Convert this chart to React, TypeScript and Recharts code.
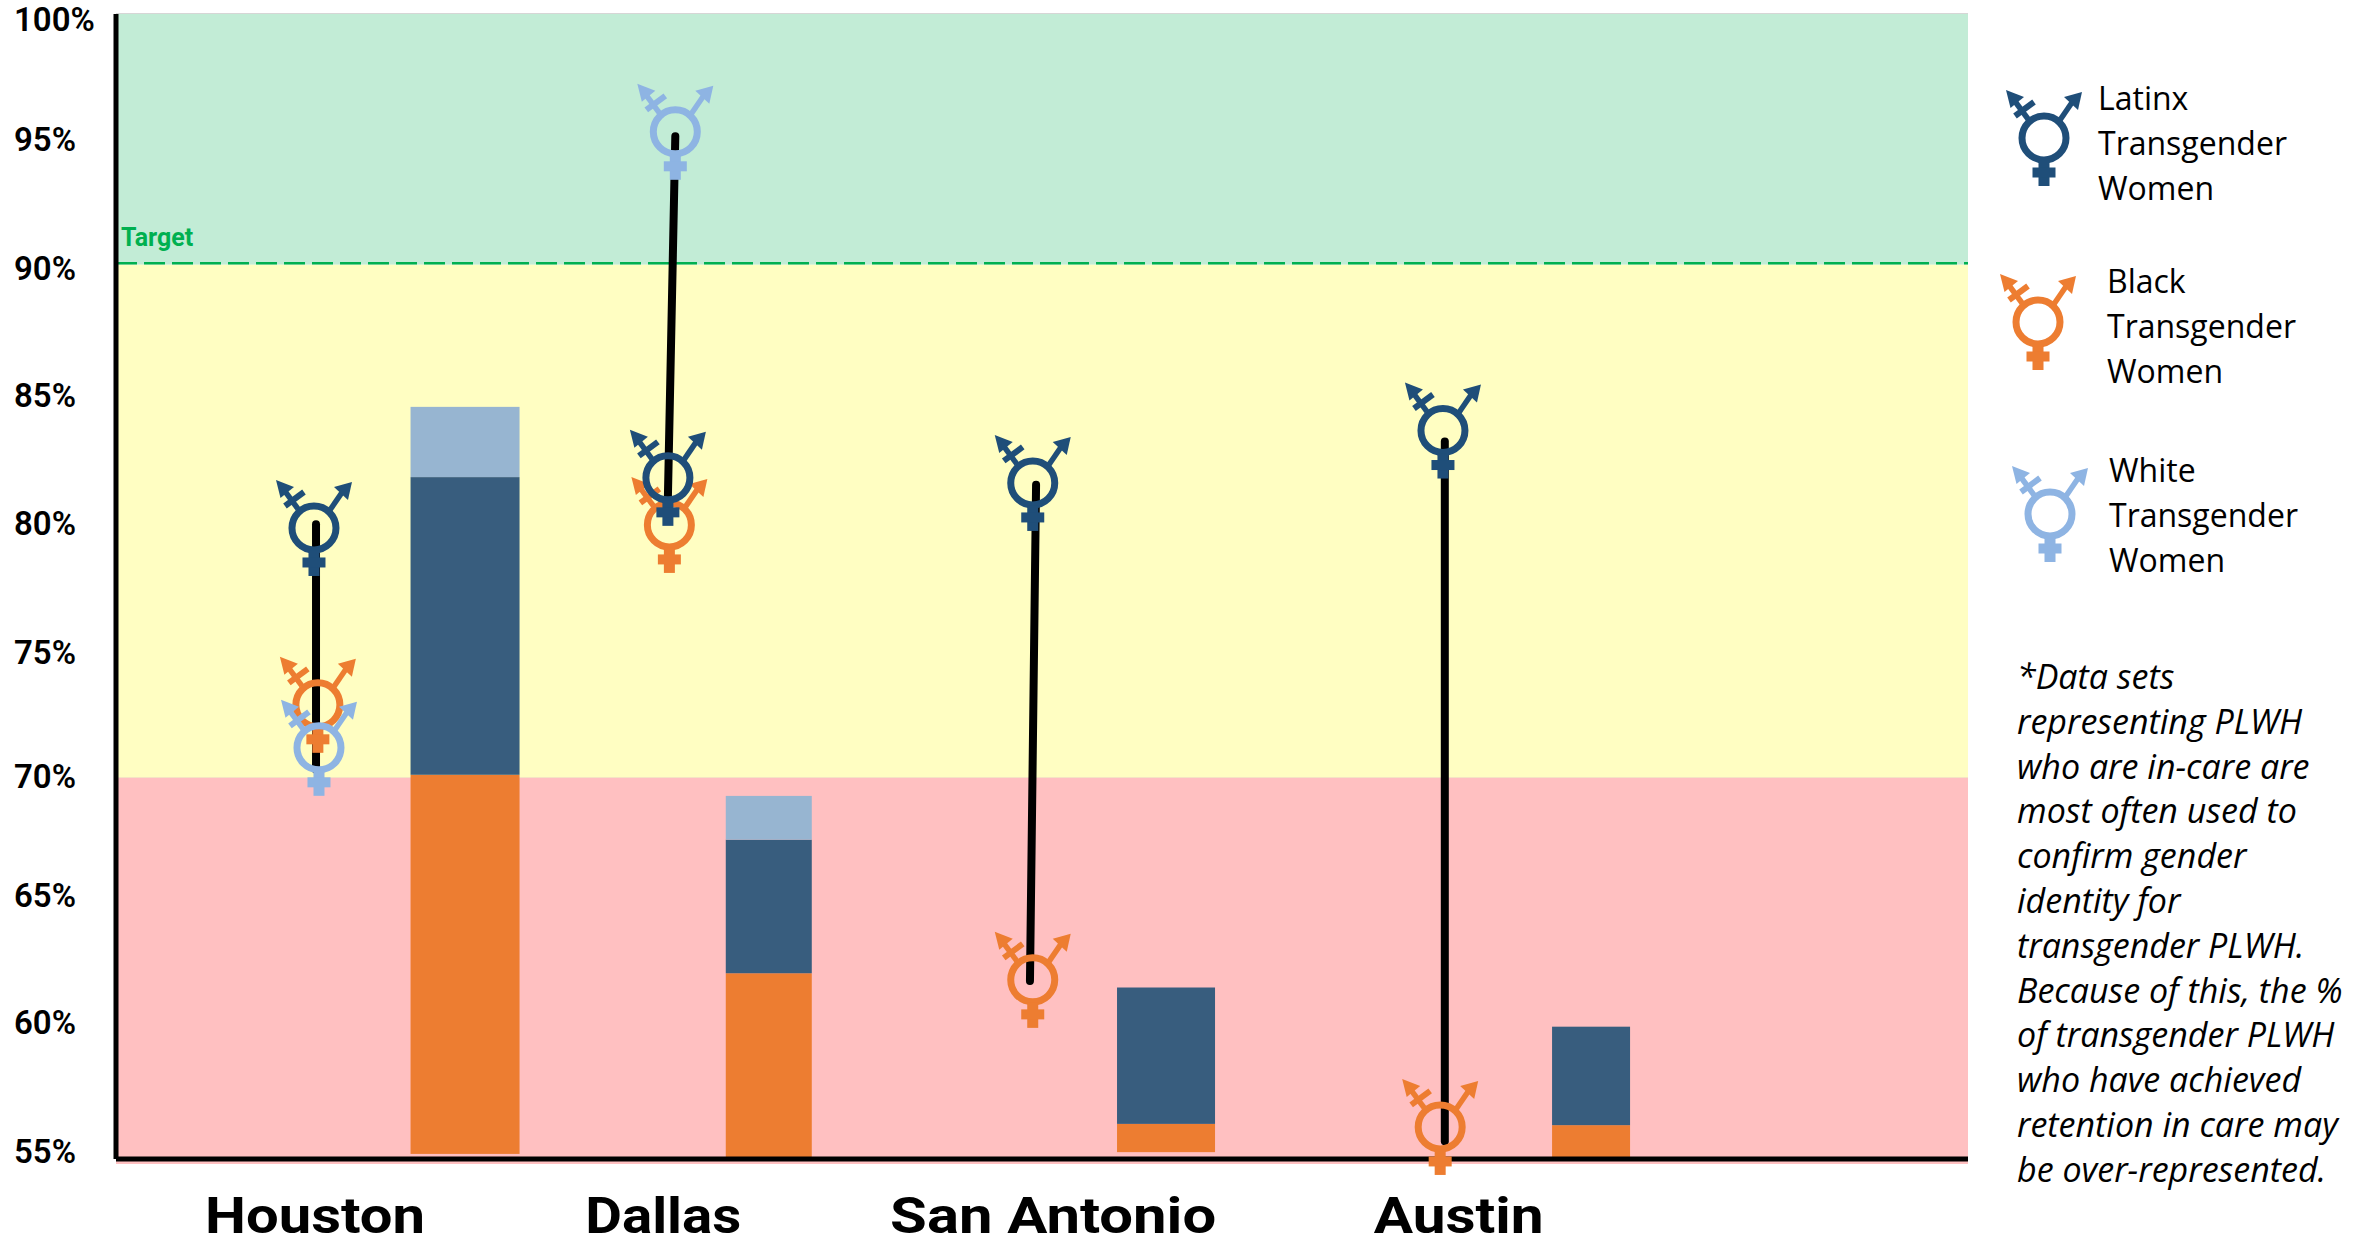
import { Bar, CartesianGrid, ComposedChart, Line, ReferenceArea, ReferenceLine, XAxis, YAxis } from "recharts";

// x axis runs 0-100 across the plot, the source has no real x scale
const cities = ["Houston", "Dallas", "San Antonio", "Austin"];
const cityTicks = [10.75, 29.55, 50.6, 72.5];
const cityWidths = [220, 156, 326, 170];

const barX = [18.85, 35.25, 56.7, 79.65];
const barBase = [55.2, 55.05, 55.27, 55];
const barBlackTop = [70.1, 62.3, 56.38, 56.33];
const barLatinxTop = [81.8, 67.55, 61.74, 60.2];
const barWhiteTop = [84.56, 69.27, 61.74, 60.2];
const barWidths = [109, 86, 98, 78];

const markerLatinx = [
  { x: 10.69, y: 79.8 },
  { x: 29.8, y: 81.77 },
  { x: 49.5, y: 81.57 },
  { x: 71.65, y: 83.63 },
];
const markerBlack = [
  { x: 10.9, y: 72.85 },
  { x: 29.88, y: 79.92 },
  { x: 49.5, y: 62.04 },
  { x: 71.5, y: 56.26 },
];
const markerWhite = [
  { x: 10.96, y: 71.16 },
  { x: 30.2, y: 95.37 },
];

const gapLines = [
  [{ x: 10.8, y: 79.95 }, { x: 10.8, y: 70.3 }],
  [{ x: 30.2, y: 95.2 }, { x: 29.8, y: 81 }],
  [{ x: 49.68, y: 81.5 }, { x: 49.35, y: 62 }],
  [{ x: 71.75, y: 83.2 }, { x: 71.75, y: 55.7 }],
];

const yLabelTicks = [55.31, 60.37, 65.38, 70.07, 74.93, 79.99, 85.03, 90.03, 95.07, 99.8];
const gridValues = [60.07, 65.26, 69.98, 75.1, 79.84, 85.03, 95.15, 100];

const noteLines = [
  "*Data sets",
  "representing PLWH",
  "who are in-care are",
  "most often used to",
  "confirm gender",
  "identity for",
  "transgender PLWH.",
  "Because of this, the %",
  "of transgender PLWH",
  "who have achieved",
  "retention in care may",
  "be over-represented.",
];

const NAVY = "#1F4E79";
const ORANGE = "#ED7D31";
const SKY = "#8EB4E3";

const legendItems = [
  { label: "Latinx", color: NAVY, cx: 2044, cy: 138, textX: 2098, textY: 75 },
  { label: "Black", color: ORANGE, cx: 2038, cy: 322, textX: 2107, textY: 258 },
  { label: "White", color: SKY, cx: 2050, cy: 514, textX: 2109, textY: 447 },
];

const rows = barX.map((x, i) => ({
  x,
  base: barBase[i],
  black: barBlackTop[i] - barBase[i],
  latinx: barLatinxTop[i] - barBlackTop[i],
  white: barWhiteTop[i] - barLatinxTop[i],
}));

const Glyph = ({ cx, cy, color }: { cx: number; cy: number; color: string }) => (
  <g transform={`translate(${cx},${cy})`} fill={color} stroke="none">
    <circle r={22} fill="none" stroke={color} strokeWidth={7} />
    <rect x={-5.5} y={23} width={11} height={25} />
    <rect x={-11.5} y={29.5} width={23} height={10} />
    <line x1={16} y1={-18} x2={29} y2={-37} stroke={color} strokeWidth={5.5} />
    <polygon points="38,-46 20,-41 34,-28" />
    <line x1={-16} y1={-19} x2={-30} y2={-38} stroke={color} strokeWidth={5.5} />
    <polygon points="-38,-48 -33.5,-30 -20,-41" />
    <line x1={-29} y1={-22} x2={-10} y2={-36} stroke={color} strokeWidth={6} />
  </g>
);

const markerDot = (color: string) => (props: any) => (
  <Glyph key={props.index} cx={props.cx} cy={props.cy} color={color} />
);

const segment = (color: string) => (props: any) => {
  if (!(props.height > 0)) return <g />;
  const w = barWidths[props.index];
  return <rect x={props.x + props.width / 2 - w / 2} y={props.y} width={w} height={props.height} fill={color} />;
};

const YTick = ({ y, payload }: any) => (
  <text x={14} y={y + 12} fontFamily="Roboto" fontWeight={600} fontSize={33} fill="#000">
    {Math.round(payload.value / 5) * 5}%
  </text>
);

const CityTick = ({ x, y, payload, index }: any) => (
  <text
    x={x}
    y={y + 66}
    textAnchor="middle"
    fontFamily="Roboto"
    fontWeight={700}
    fontSize={50}
    fill="#000"
    textLength={cityWidths[index]}
    lengthAdjust="spacingAndGlyphs"
  >
    {cities[index]}
  </text>
);

export default function App() {
  return (
    <div style={{ position: "absolute", left: 0, top: 0, width: 2374, height: 1246, fontFamily: "'Open Sans'" }}>
      <ComposedChart
        width={2374}
        height={1246}
        data={rows}
        margin={{ top: 14, right: 406, bottom: 0, left: 16 }}
      >
        <ReferenceArea y1={90.15} y2={100} fill="#C2ECD6" fillOpacity={1} stroke="none" ifOverflow="visible" />
        <ReferenceArea y1={69.98} y2={90.15} fill="#FFFEC2" fillOpacity={1} stroke="none" ifOverflow="visible" />
        <ReferenceArea y1={54.8} y2={69.98} fill="#FFC0C1" fillOpacity={1} stroke="none" ifOverflow="visible" />
        <CartesianGrid vertical={false} horizontalValues={gridValues} stroke="#C9C9C9" strokeWidth={1.5} />
        <XAxis
          dataKey="x"
          type="number"
          domain={[0, 100]}
          ticks={cityTicks}
          height={87}
          tickLine={false}
          axisLine={{ stroke: "#000", strokeWidth: 5 }}
          tick={<CityTick />}
          interval={0}
        />
        <YAxis
          type="number"
          domain={[55, 100]}
          ticks={yLabelTicks}
          width={100}
          tickLine={false}
          axisLine={{ stroke: "#000", strokeWidth: 5 }}
          tick={<YTick />}
          interval={0}
        />
        {/* bars stack up from zero, so they get their own clipped axis */}
        <YAxis yAxisId="bars" hide type="number" domain={[55, 100]} allowDataOverflow />
        <ReferenceLine
          y={90.2}
          stroke="#00B050"
          strokeWidth={2.5}
          strokeDasharray="21 7"
          label={{ value: "Target", position: "insideBottomLeft", fill: "#00B050", fontFamily: "Roboto", fontWeight: 700, fontSize: 25, dy: -12 }}
        />
        <Bar yAxisId="bars" dataKey="base" stackId="a" barSize={60} fill="none" isAnimationActive={false} />
        <Bar yAxisId="bars" dataKey="black" stackId="a" barSize={60} shape={segment("#ED7D31")} isAnimationActive={false} />
        <Bar yAxisId="bars" dataKey="latinx" stackId="a" barSize={60} shape={segment("#385D7E")} isAnimationActive={false} />
        <Bar yAxisId="bars" dataKey="white" stackId="a" barSize={60} shape={segment("#97B5D1")} isAnimationActive={false} />
        {gapLines.map((line, i) => (
          <Line
            key={i}
            data={line}
            dataKey="y"
            stroke="#000"
            strokeWidth={8}
            strokeLinecap="round"
            dot={false}
            isAnimationActive={false}
          />
        ))}
        <Line data={markerBlack} dataKey="y" stroke="none" dot={markerDot(ORANGE)} isAnimationActive={false} />
        <Line data={markerWhite} dataKey="y" stroke="none" dot={markerDot(SKY)} isAnimationActive={false} />
        <Line data={markerLatinx} dataKey="y" stroke="none" dot={markerDot(NAVY)} isAnimationActive={false} />
      </ComposedChart>

      {legendItems.map((item) => (
        <div key={item.label}>
          <svg style={{ position: "absolute", left: item.cx - 50, top: item.cy - 60 }} width={100} height={120}>
            <Glyph cx={50} cy={60} color={item.color} />
          </svg>
          <div style={{ position: "absolute", left: item.textX, top: item.textY, fontSize: 32, lineHeight: "45px", color: "#000" }}>
            {item.label}
            <br />
            Transgender
            <br />
            Women
          </div>
        </div>
      ))}

      <div style={{ position: "absolute", left: 2017, top: 654, fontSize: 34, lineHeight: "44.8px", fontStyle: "italic", color: "#000", whiteSpace: "nowrap" }}>
        {noteLines.map((line) => (
          <div key={line}>{line}</div>
        ))}
      </div>
    </div>
  );
}
